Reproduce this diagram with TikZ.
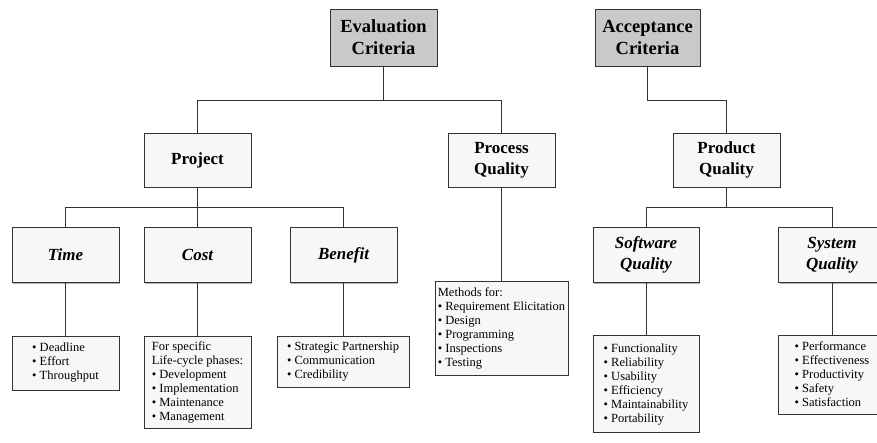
\documentclass[tikz,border=0pt]{standalone}
\usepackage{fontspec}
\setmainfont{Liberation Serif}
\usetikzlibrary{shadows}
\begin{document}
\begin{tikzpicture}[x=1pt,y=-1pt,
  box/.style={draw=black!80, line width=0.8pt, fill=gray!6, align=center,
    inner sep=0pt, drop shadow={shadow xshift=1.2pt, shadow yshift=-1.2pt, fill=gray!60, opacity=1}},
  topbox/.style={box, fill=gray!42, minimum width=107pt, minimum height=57pt,
    font=\fontsize{18.5}{22}\selectfont\bfseries},
  headbox/.style={box, minimum width=107pt, minimum height=54pt,
    font=\fontsize{17}{21}\selectfont\bfseries},
  itbox/.style={box, minimum width=107pt, minimum height=55pt,
    font=\fontsize{17}{21}\selectfont\bfseries\itshape},
  listbox/.style={box, align=left, font=\fontsize{12.5}{14}\selectfont},
  conn/.style={draw=black!80, line width=0.8pt}
]
\useasboundingbox[fill=white] (0,0) rectangle (877,442);
\coordinate (ya) at (0,100);
\coordinate (yb) at (0,207);

% top level
\node[topbox] (eval) at (383.5,37.5) {Evaluation\\Criteria};
\node[topbox, minimum width=105pt] (acc) at (647.5,37.5) {Acceptance\\Criteria};

% second level
\node[headbox] (proj) at (197.5,160) {Project};
\node[headbox] (proc) at (501.5,160) {Process\\Quality};
\node[headbox] (prod) at (726.5,160) {Product\\Quality};

% third level
\node[itbox] (time) at (65.5,255) {Time};
\node[itbox] (cost) at (197.5,255) {Cost};
\node[itbox] (ben) at (343.5,255) {Benefit};
\node[itbox, minimum width=106pt] (sw) at (646,255) {Software\\Quality};
\node[itbox] (sys) at (832,255) {System\\Quality};

% lists
\node[listbox, minimum width=107pt, minimum height=54pt] (timel) at (65.5,363)
  {\textbullet\ Deadline\\\textbullet\ Effort\\\textbullet\ Throughput};
\node[listbox, minimum width=107pt, minimum height=92pt] (costl) at (197.5,382)
  {For specific\\Life-cycle phases:\\\textbullet\ Development\\\textbullet\ Implementation\\\textbullet\ Maintenance\\\textbullet\ Management};
\node[listbox, minimum width=132pt, minimum height=51pt] (benl) at (343,361.5)
  {\textbullet\ Strategic Partnership\\\textbullet\ Communication\\\textbullet\ Credibility};
\node[listbox, minimum width=133pt, minimum height=94pt] (meth) at (501.5,328)
  {Methods for:\\\textbullet\ Requirement Elicitation\\\textbullet\ Design\\\textbullet\ Programming\\\textbullet\ Inspections\\\textbullet\ Testing};
\node[listbox, minimum width=106pt, minimum height=97pt, text depth=0pt] (swl) at (646,383.5)
  {\textbullet\ Functionality\\\textbullet\ Reliability\\\textbullet\ Usability\\\textbullet\ Efficiency\\\textbullet\ Maintainability\\\textbullet\ Portability};
\node[listbox, minimum width=107pt, minimum height=79pt] (sysl) at (832,374.5)
  {\textbullet\ Performance\\\textbullet\ Effectiveness\\\textbullet\ Productivity\\\textbullet\ Safety\\\textbullet\ Satisfaction};

% connectors
\draw[conn] (eval.south) -- (eval.south |- ya);
\draw[conn] (proj.north) |- (proc.north |- ya) -- (proc.north);
\draw[conn] (acc.south) |- (prod.north |- ya) -- (prod.north);
\draw[conn] (proj.south) -- (proj.south |- yb);
\draw[conn] (time.north) |- (ben.north |- yb) -- (ben.north);
\draw[conn] (cost.north) -- (cost.north |- yb);
\draw[conn] (prod.south) -- (prod.south |- yb);
\draw[conn] (sw.north) |- (sys.north |- yb) -- (sys.north);
\draw[conn] (time.south) -- (timel.north);
\draw[conn] (cost.south) -- (costl.north);
\draw[conn] (ben.south) -- (ben.south |- benl.north);
\draw[conn] (proc.south) -- (meth.north);
\draw[conn] (sw.south) -- (swl.north);
\draw[conn] (sys.south) -- (sysl.north);
\end{tikzpicture}
\end{document}
